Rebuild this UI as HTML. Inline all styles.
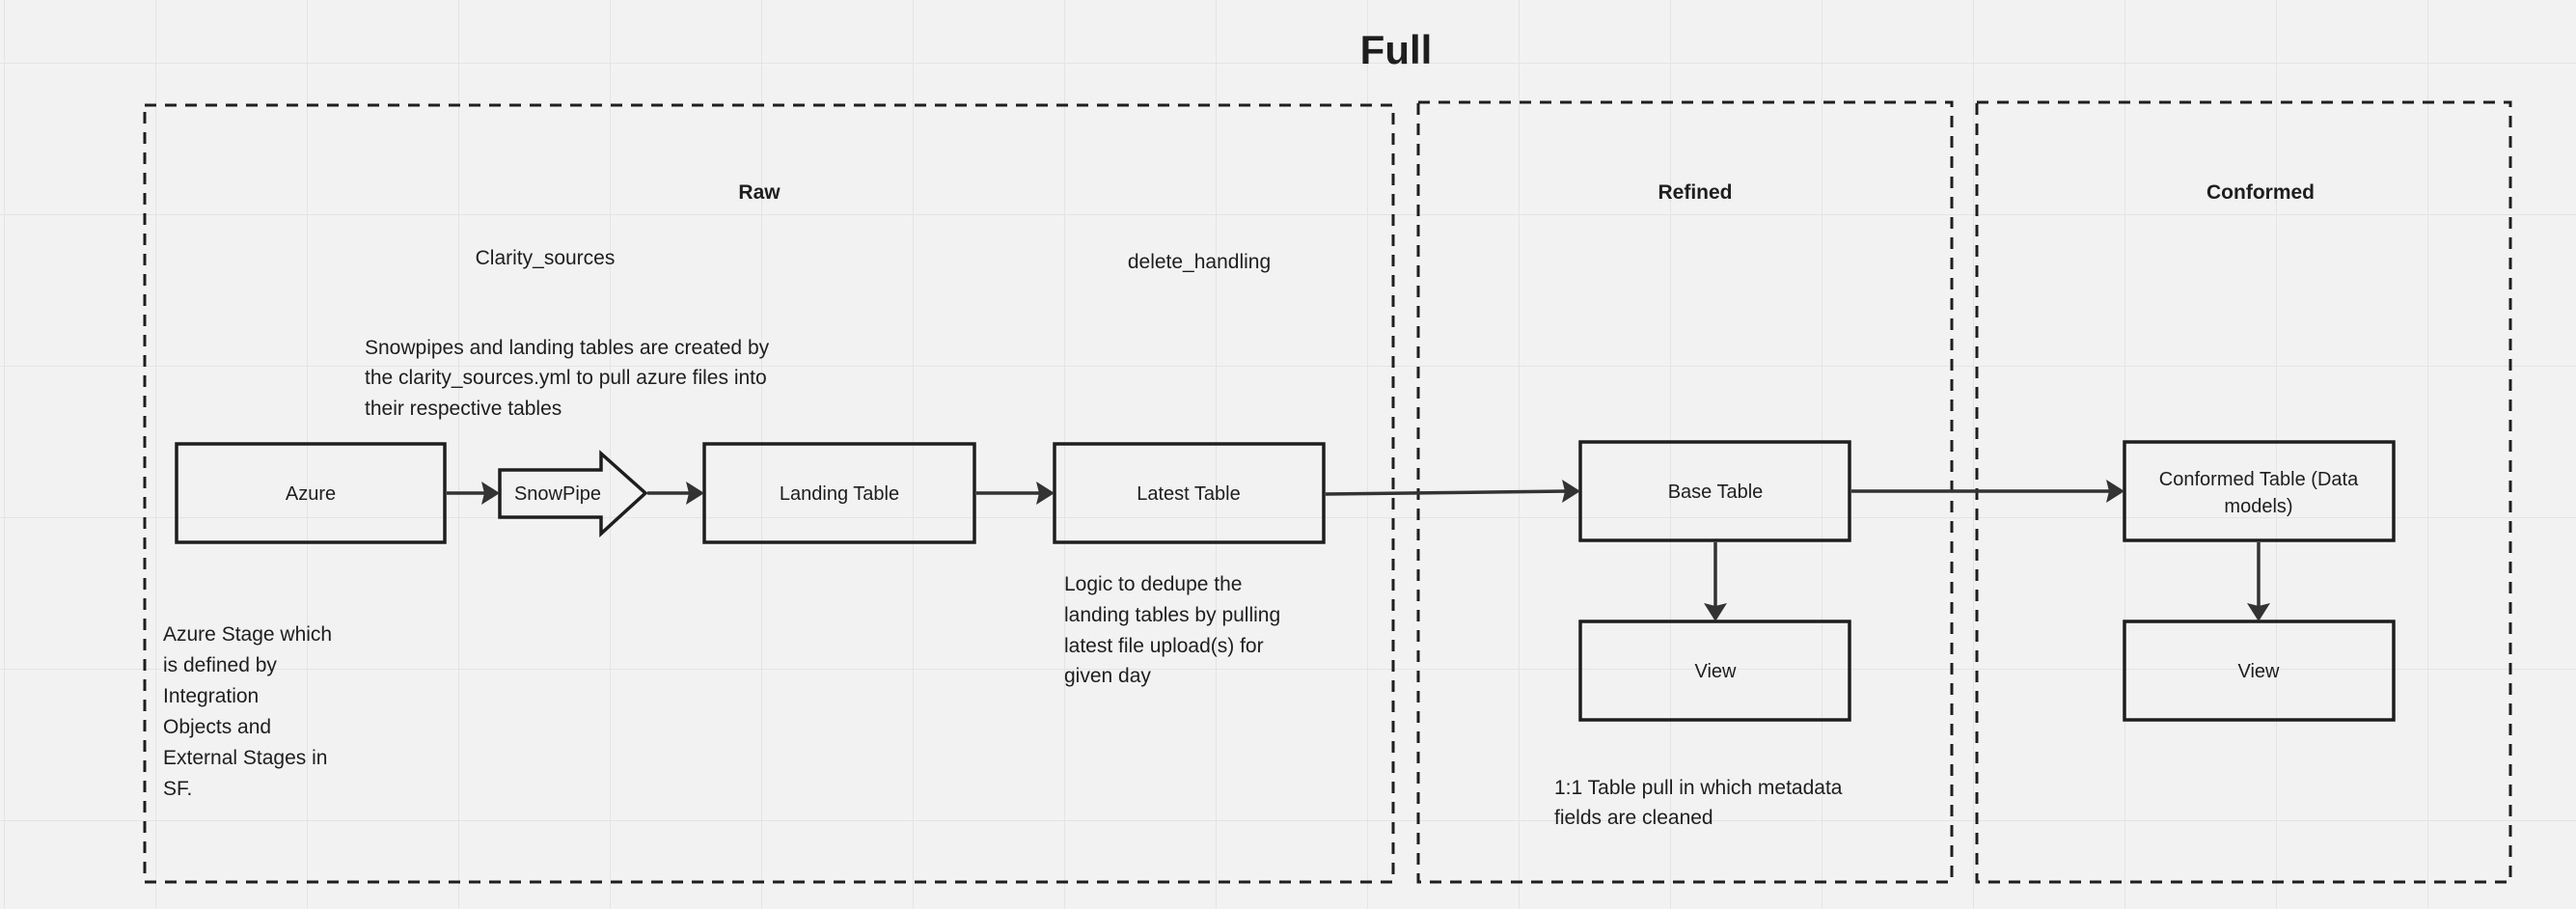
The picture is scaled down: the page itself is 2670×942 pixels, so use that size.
<!DOCTYPE html>
<html><head><meta charset="utf-8"><style>
html,body{margin:0;padding:0;background:#f2f2f2;}
svg{display:block;}
text{font-family:"Liberation Sans",sans-serif;fill:#1e1e1e;}
</style></head><body>
<svg width="2670" height="942" viewBox="0 0 2670 942" xmlns="http://www.w3.org/2000/svg">
<defs>
<pattern id="g" x="4" y="65" width="157" height="157" patternUnits="userSpaceOnUse">
<path d="M0 0V157M0 0H157" stroke="#e4e4e4" stroke-width="2" fill="none"/>
</pattern>
</defs>
<rect width="2670" height="942" fill="#f2f2f2"/>
<rect width="2670" height="942" fill="url(#g)"/>

<text x="1447" y="66" font-size="42" font-weight="bold" text-anchor="middle">Full</text>

<g fill="none" stroke="#1e1e1e" stroke-width="3" stroke-dasharray="12 9">
<rect x="150" y="109" width="1294" height="805"/>
<rect x="1470" y="106" width="553" height="808"/>
<rect x="2049" y="106" width="553" height="808"/>
</g>

<g font-size="21" font-weight="bold" text-anchor="middle">
<text x="787" y="206">Raw</text>
<text x="1757" y="206">Refined</text>
<text x="2343" y="206">Conformed</text>
</g>

<g font-size="21">
<text x="565" y="274" text-anchor="middle">Clarity_sources</text>
<text x="1243" y="278" text-anchor="middle">delete_handling</text>
<text x="378" y="367">Snowpipes and landing tables are created by</text>
<text x="378" y="398">the clarity_sources.yml to pull azure files into</text>
<text x="378" y="430">their respective tables</text>
<text x="1103" y="612">Logic to dedupe the</text>
<text x="1103" y="644">landing tables by pulling</text>
<text x="1103" y="676">latest file upload(s) for</text>
<text x="1103" y="707">given day</text>
<text x="169" y="664">Azure Stage which</text>
<text x="169" y="696">is defined by</text>
<text x="169" y="728">Integration</text>
<text x="169" y="760">Objects and</text>
<text x="169" y="792">External Stages in</text>
<text x="169" y="824">SF.</text>
<text x="1611" y="823">1:1 Table pull in which metadata</text>
<text x="1611" y="854">fields are cleaned</text>
</g>

<g fill="none" stroke="#1e1e1e" stroke-width="3.5">
<rect x="183" y="460" width="278" height="102"/>
<rect x="730" y="460" width="280" height="102"/>
<rect x="1093" y="460" width="279" height="102"/>
<rect x="1638" y="458" width="279" height="102"/>
<rect x="1638" y="644" width="279" height="102"/>
<rect x="2202" y="458" width="279" height="102"/>
<rect x="2202" y="644" width="279" height="102"/>
<path d="M518 487H623V470L669 511L623 553V536H518Z" stroke-linejoin="miter"/>
</g>

<g font-size="20" text-anchor="middle">
<text x="322" y="518">Azure</text>
<text x="578" y="518">SnowPipe</text>
<text x="870" y="518">Landing Table</text>
<text x="1232" y="518">Latest Table</text>
<text x="1778" y="516">Base Table</text>
<text x="1778" y="702">View</text>
<text x="2341" y="503">Conformed Table (Data</text>
<text x="2341" y="531">models)</text>
<text x="2341" y="702">View</text>
</g>

<g stroke="#333" stroke-width="3.5" fill="none">
<path d="M463 511H505"/>
<path d="M671 511H717"/>
<path d="M1012 511H1080"/>
<path d="M1374 512L1625 509"/>
<path d="M1919 509H2189"/>
<path d="M1778 562V631"/>
<path d="M2341 562V631"/>
</g>
<g fill="#333">
<path d="M518 511L499 499L502 511L499 523Z"/>
<path d="M730 511L711 499L714 511L711 523Z"/>
<path d="M1093 511L1074 499L1077 511L1074 523Z"/>
<path d="M1638 509L1619 497L1622 509L1619 521Z"/>
<path d="M2202 509L2183 497L2186 509L2183 521Z"/>
<path d="M1778 644L1766 625L1778 628L1790 625Z"/>
<path d="M2341 644L2329 625L2341 628L2353 625Z"/>
</g>
</svg>
</body></html>
